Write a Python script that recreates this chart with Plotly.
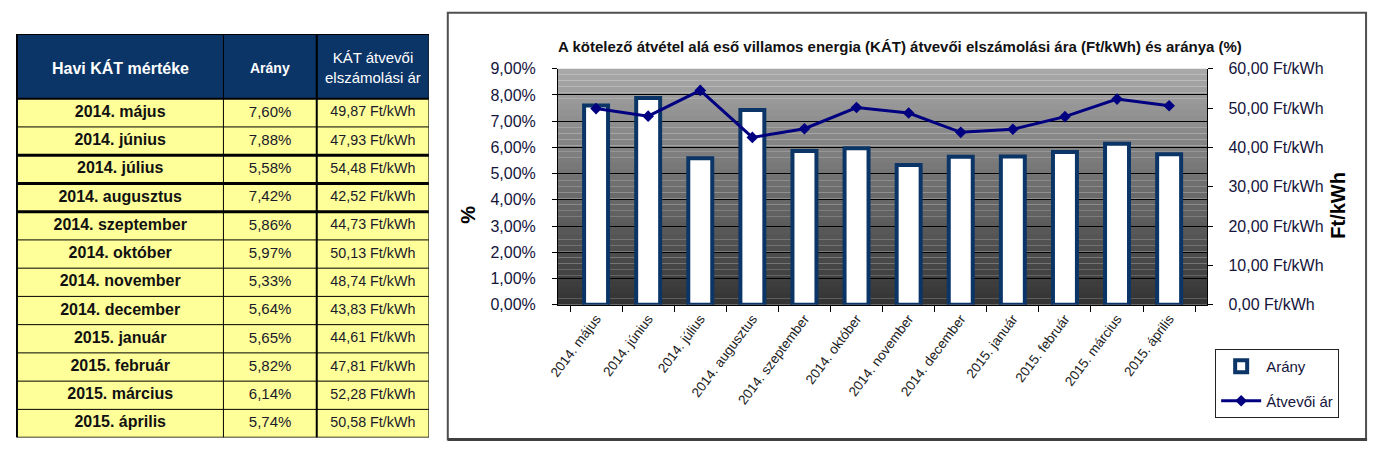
import plotly.graph_objects as go

months = ["2014. május", "2014. június", "2014. július", "2014. augusztus",
          "2014. szeptember", "2014. október", "2014. november", "2014. december",
          "2015. január", "2015. február", "2015. március", "2015. április"]
arany = [7.60, 7.88, 5.58, 7.42, 5.86, 5.97, 5.33, 5.64, 5.65, 5.82, 6.14, 5.74]
ar = [49.87, 47.93, 54.48, 42.52, 44.73, 50.13, 48.74, 43.83, 44.61, 47.81, 52.28, 50.58]

left_ticks = [0, 1, 2, 3, 4, 5, 6, 7, 8, 9]
right_ticks = [0, 10, 20, 30, 40, 50, 60]

header_labels = ["<b>Havi KÁT mértéke</b>", "<b>Arány</b>", "KÁT átvevői<br>elszámolási ár"]

W, H = 1374, 463
def px(x): return min(1, max(0, x / W))
def py(y): return min(1, max(0, 1 - y / H))

def hu(v, dec=2):
    return f"{v:.{dec}f}".replace(".", ",")

fmt_pct = [hu(v) + "%" for v in arany]
fmt_ar = [hu(v) + " Ft/kWh" for v in ar]
left_text = [hu(v) + "%" for v in left_ticks]
right_text = [hu(v) + " Ft/kWh" for v in right_ticks]

FONT = "Liberation Sans, Arial"

# ---------- table geometry (layout, in table units) ----------
col_w = [208, 94, 113]
col_edges = [0, col_w[0], col_w[0] + col_w[1], sum(col_w)]
col_centers = [(col_edges[i] + col_edges[i + 1]) / 2 for i in range(3)]
nrows = len(months)
header_h = 2.29  # header height in row units
row_y = [i + 0.5 for i in range(nrows)]

fig = go.Figure()

# table texts
fig.add_trace(go.Scatter(
    x=[col_centers[0]] * nrows, y=row_y, text=["<b>" + m + "</b>" for m in months],
    mode="text", xaxis="x3", yaxis="y3", showlegend=False, hoverinfo="skip",
    textfont=dict(family=FONT, size=16, color="#111111")))
fig.add_trace(go.Scatter(
    x=[col_centers[1]] * nrows, y=row_y, text=fmt_pct,
    mode="text", xaxis="x3", yaxis="y3", showlegend=False, hoverinfo="skip",
    textfont=dict(family=FONT, size=15, color="#1a1a2a")))
fig.add_trace(go.Scatter(
    x=[col_centers[2]] * nrows, y=row_y, text=fmt_ar,
    mode="text", xaxis="x3", yaxis="y3", showlegend=False, hoverinfo="skip",
    textfont=dict(family=FONT, size=14.3, color="#1a1a2a")))

# chart traces
fig.add_trace(go.Bar(
    x=months, y=arany, name="Arány", width=0.46,
    marker=dict(color="white", line=dict(color="#0b3567", width=4)),
    legendgroup="a",
))
fig.add_trace(go.Scatter(
    x=months, y=ar, name="Átvevői ár", yaxis="y2", mode="lines+markers",
    line=dict(color="#000080", width=3),
    marker=dict(symbol="diamond", size=9, color="#000080"),
    legendgroup="b",
))

shapes = []
# gradient background of plot area
n = 40
top = (168, 168, 168)
bot = (52, 52, 52)
for i in range(n):
    t = i / (n - 1)
    c = tuple(int(round(bot[k] + (top[k] - bot[k]) * t)) for k in range(3))
    shapes.append(dict(type="rect", xref="x domain", yref="y domain",
                       x0=0, x1=1, y0=i / n, y1=(i + 1) / n,
                       fillcolor=f"rgb{c}", line=dict(width=0), layer="below"))
# chart frame
shapes.append(dict(type="rect", xref="paper", yref="paper",
                   x0=px(441), x1=px(1366), y0=py(448), y1=py(5),
                   line=dict(color="#505050", width=2), fillcolor="rgba(0,0,0,0)"))
shapes.append(dict(type="line", xref="paper", yref="paper",
                   x0=px(441), x1=px(1367), y0=py(448), y1=py(448),
                   line=dict(color="#404040", width=3)))

# table fills and borders
shapes.append(dict(type="rect", xref="x3", yref="y3", x0=0, x1=col_edges[3],
                   y0=-header_h, y1=0, fillcolor="#0b3567", line=dict(width=0),
                   layer="below"))
shapes.append(dict(type="rect", xref="x3", yref="y3", x0=0, x1=col_edges[3],
                   y0=0, y1=nrows, fillcolor="#ffff99", line=dict(width=0),
                   layer="below"))
thick_rows = {2, 3, 4}
for r in range(0, nrows + 1):
    w = 3 if r in thick_rows else (2 if r in (0, nrows) else 1)
    shapes.append(dict(type="line", xref="x3", yref="y3", x0=0, x1=col_edges[3],
                       y0=r, y1=r, line=dict(color="black", width=w)))
shapes.append(dict(type="line", xref="x3", yref="y3", x0=0, x1=col_edges[3],
                   y0=-header_h, y1=-header_h, line=dict(color="black", width=2)))
for ci, xe in enumerate(col_edges):
    w = 2 if ci in (0, 2) else 1
    shapes.append(dict(type="line", xref="x3", yref="y3", x0=xe, x1=xe,
                       y0=-header_h, y1=nrows, line=dict(color="black", width=w)))

tickfont = dict(family=FONT, size=16, color="#14143c")

annotations = [
    dict(text="<b>A kötelező átvétel alá eső villamos energia (KÁT) átvevői elszámolási ára (Ft/kWh) és aránya (%)</b>",
         x=px(897), y=py(40), xref="paper", yref="paper", showarrow=False,
         xanchor="center", yanchor="middle",
         font=dict(family=FONT, size=15, color="#111111")),
    dict(text="<b>%</b>", x=px(461), y=py(215), xref="paper", yref="paper",
         showarrow=False, textangle=-90, xanchor="center", yanchor="middle",
         font=dict(family=FONT, size=20, color="black")),
    dict(text="<b>Ft/kWh</b>", x=px(1338), y=py(205), xref="paper", yref="paper",
         showarrow=False, textangle=-90, xanchor="center", yanchor="middle",
         font=dict(family=FONT, size=20, color="black")),
]
head_sizes = [16, 14, 15]
for i, lab in enumerate(header_labels):
    annotations.append(dict(text=lab, x=col_centers[i], y=-header_h / 2 + 0.05,
                            xref="x3", yref="y3", showarrow=False,
                            xanchor="center", yanchor="middle",
                            font=dict(family=FONT, size=head_sizes[i], color="white")))

fig.update_layout(
    width=W, height=H,
    margin=dict(l=0, r=0, t=0, b=0),
    paper_bgcolor="white",
    plot_bgcolor="rgba(0,0,0,0)",
    shapes=shapes,
    annotations=annotations,
    xaxis=dict(domain=[px(552), px(1206)], type="category",
               tickangle=-53, tickson="boundaries", ticks="outside", ticklen=6,
               tickcolor="black", showline=True, linecolor="black", linewidth=1,
               tickfont=dict(family=FONT, size=13.5, color="#222222"),
               showgrid=False),
    yaxis=dict(domain=[py(308), py(63)], range=[0, 9], tickmode="array",
               tickvals=left_ticks, ticktext=left_text, tickfont=tickfont,
               showgrid=True, gridcolor="black", gridwidth=1,
               showline=True, linecolor="black", ticks="outside", ticklen=5,
               tickcolor="black", zeroline=False, ticklabelstandoff=13),
    yaxis2=dict(overlaying="y", side="right", range=[0, 60], tickmode="array",
                tickvals=right_ticks, ticktext=right_text, tickfont=tickfont,
                showgrid=False, showline=True, linecolor="black", ticks="outside",
                ticklen=5, tickcolor="black", zeroline=False, ticklabelstandoff=12),
    xaxis3=dict(domain=[px(6), px(422)], range=[-1, col_edges[3]], visible=False,
                fixedrange=True, anchor="y3"),
    yaxis3=dict(domain=[py(446), py(27)], range=[nrows, -header_h], visible=False,
                fixedrange=True, anchor="x3"),
    legend=dict(x=px(1214), y=py(354), xanchor="left", yanchor="top",
                bordercolor="#222222", borderwidth=1, bgcolor="white",
                font=dict(family=FONT, size=15, color="#14143c"),
                tracegroupgap=12, itemwidth=40),
)

fig.write_html("out.html", config={"displayModeBar": False},
               post_script="document.body.style.margin='0';")
